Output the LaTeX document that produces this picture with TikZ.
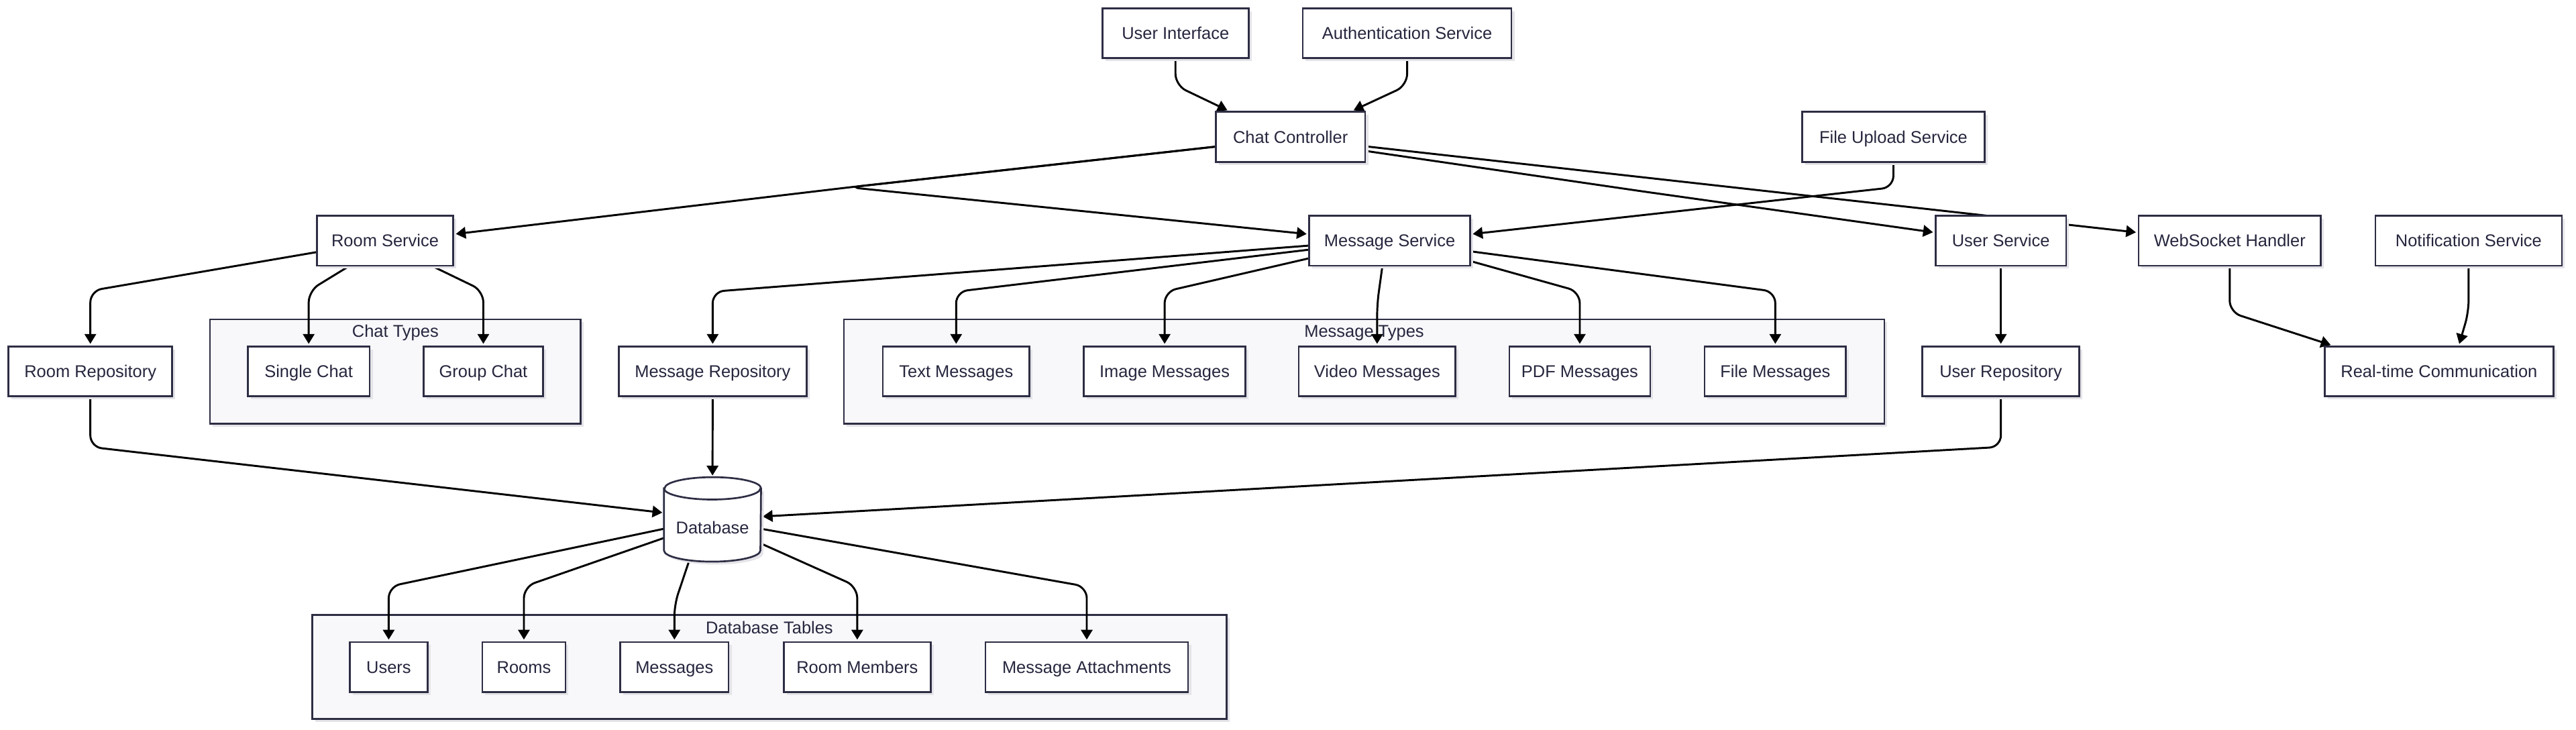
\documentclass[tikz,border=0pt]{standalone}
\usepackage{fontspec}
\setmainfont{Liberation Sans}
\usetikzlibrary{arrows.meta,shadows,calc}
\pgfdeclarelayer{clusters}
\pgfdeclarelayer{edges}
\pgfsetlayers{clusters,edges,main}
\definecolor{nodeline}{HTML}{2D2D44}
\definecolor{nodetext}{HTML}{26263E}
\definecolor{clusterfill}{HTML}{F8F8FB}
\definecolor{shadowc}{HTML}{E4E4E9}
\begin{document}
\begin{tikzpicture}[x=1pt,y=-1pt,
  box/.style={draw=nodeline, line width=1.1pt, fill=white, text=nodetext,
    font=\fontsize{10.4}{12}\selectfont, minimum height=30.4pt, inner sep=0pt,
    text height=7.4pt, text depth=0pt,
    drop shadow={shadow xshift=1.8pt, shadow yshift=-1.8pt, fill=shadowc, opacity=1}},
  cluster/.style={draw=nodeline, line width=1.1pt, fill=clusterfill, inner sep=0pt,
    drop shadow={shadow xshift=1.8pt, shadow yshift=-1.8pt, fill=shadowc, opacity=1}},
  ctitle/.style={text=nodetext, font=\fontsize{10.4}{12}\selectfont, inner sep=0pt,
    text height=7.4pt, text depth=0pt},
  arr/.style={draw=black, line width=1.2pt, -{Triangle[length=6pt,width=7pt]},
    rounded corners=7pt, shorten >=1pt},
]
\useasboundingbox (0,0) rectangle (1568,444);

% ---- nodes ----
\node[box, minimum width=89pt]  (ui)   at (715.5,20.2) {User Interface};
\node[box, minimum width=127pt] (auth) at (856.5,20.2) {Authentication Service};
\node[box, minimum width=91pt]  (cc)   at (785.5,83.3) {Chat Controller};
\node[box, minimum width=111pt] (fus)  at (1152.5,83.3) {File Upload Service};

\node[box, minimum width=83pt]  (rs) at (234.4,146.5) {Room Service};
\node[box, minimum width=98pt]  (ms) at (845.9,146.5) {Message Service};
\node[box, minimum width=79.5pt] (us) at (1217.9,146.5) {User Service};
\node[box, minimum width=111pt] (wh) at (1357.2,146.5) {WebSocket Handler};
\node[box, minimum width=113.5pt] (ns) at (1502.6,146.5) {Notification Service};

\node[box, minimum width=99.6pt]  (rr) at (55,226) {Room Repository};
\node[box, minimum width=74.3pt]  (sc) at (187.9,226) {Single Chat};
\node[box, minimum width=72.6pt]  (gc) at (294.2,226) {Group Chat};
\node[box, minimum width=114.5pt] (mr) at (433.8,226) {Message Repository};
\node[box, minimum width=89.3pt]  (tm) at (582,226) {Text Messages};
\node[box, minimum width=98.3pt]  (im) at (708.9,226) {Image Messages};
\node[box, minimum width=95.5pt]  (vm) at (838.25,226) {Video Messages};
\node[box, minimum width=85.7pt]  (pm) at (961.6,226) {PDF Messages};
\node[box, minimum width=86.1pt]  (fm) at (1080.6,226) {File Messages};
\node[box, minimum width=95.7pt]  (ur) at (1217.9,226) {User Repository};
\node[box, minimum width=139.3pt] (rt) at (1484.65,226) {Real-time Communication};

\node[box, minimum width=47.2pt]  (users) at (236.6,406) {Users};
\node[box, minimum width=50.7pt]  (rooms) at (318.9,406) {Rooms};
\node[box, minimum width=66pt]    (msgs)  at (410.5,406) {Messages};
\node[box, minimum width=89.6pt]  (rm)    at (521.8,406) {Room Members};
\node[box, minimum width=123.4pt] (ma)    at (661.5,406) {Message Attachments};

% database cylinder
\node[minimum width=58.7pt, minimum height=51pt, inner sep=0pt] (db) at (433.7,316.1) {};
\fill[shadowc] ([xshift=1.8pt,yshift=-8.6pt]db.north west) -- ([xshift=1.8pt,yshift=5pt]db.south west)
  arc[start angle=180,end angle=360,x radius=29.35pt,y radius=6.8pt]
  -- ([xshift=1.8pt,yshift=-8.6pt]db.north east) -- cycle;
\draw[draw=nodeline, line width=1.1pt, fill=white]
  ([yshift=-6.8pt]db.north west) -- ([yshift=6.8pt]db.south west)
  arc[start angle=180,end angle=360,x radius=29.35pt,y radius=6.8pt]
  -- ([yshift=-6.8pt]db.north east)
  arc[start angle=0,end angle=180,x radius=29.35pt,y radius=6.8pt] -- cycle;
\draw[draw=nodeline, line width=1.1pt] ([yshift=-6.8pt]db.north west)
  arc[start angle=180,end angle=360,x radius=29.35pt,y radius=6.8pt];
\node[ctitle] (dbtext) at (433.7,321) {Database};

% ---- clusters ----
\begin{pgfonlayer}{clusters}
\node[cluster, minimum width=225.7pt, minimum height=63.6pt] (ctypes) at (240.65,226.2) {};
\node[ctitle] (ctypesl) at (240.65,201.5) {Chat Types};
\node[cluster, minimum width=633.3pt, minimum height=63.6pt] (mtypes) at (830.35,226.2) {};
\node[ctitle] (mtypesl) at (830.35,201.5) {Message Types};
\node[cluster, minimum width=556.6pt, minimum height=63.3pt] (dtables) at (468.3,405.95) {};
\node[ctitle] (dtablesl) at (468.3,381.8) {Database Tables};
\end{pgfonlayer}

% ---- edges ----
\begin{pgfonlayer}{edges}
\draw[arr] (ui.south) -- (715.5,52) -- ([xshift=-37.5pt]cc.north);
\draw[arr] (auth.south) -- (856.5,52) -- ([xshift=37.5pt]cc.north);
\draw[arr] ([yshift=-6pt]cc.west) -- (517,114) -- ([yshift=4pt]rs.east);
\draw[arr] ([yshift=-6pt]cc.west) -- (517,114) -- ([yshift=4pt]ms.west);
\draw[arr] ([yshift=-8.6pt]cc.east) -- (1000,116.5) -- ([yshift=5pt]us.west);
\draw[arr] ([yshift=-5.8pt]cc.east) -- ([yshift=5pt]wh.west);
\draw[arr] (fus.south) -- (1152.5,114) -- ([yshift=4pt]ms.east);
\draw[arr] ([yshift=-3pt]ms.west) -- (433.8,177.5) -- (mr.north);
\draw[arr] ([yshift=-5.5pt]ms.west) -- (582,177.5) -- (tm.north);
\draw[arr] ([yshift=-10.8pt]ms.west) -- (708.9,177.5) -- (im.north);
\draw[arr] ([xshift=-4.5pt]ms.south) -- (838.25,185) -- (vm.north);
\draw[arr] ([yshift=-12.5pt]ms.east) -- (961.6,177.5) -- (pm.north);
\draw[arr] ([yshift=-6.5pt]ms.east) -- (1080.6,177.5) -- (fm.north);
\draw[arr] ([yshift=-7pt]rs.west) -- (55,177) -- (rr.north);
\draw[arr] ([xshift=-22.4pt]rs.south) -- (187.9,177) -- (sc.north);
\draw[arr] ([xshift=29.3pt]rs.south) -- (294.2,177) -- (gc.north);
\draw[arr] (us.south) -- (ur.north);
\draw[arr] (wh.south) -- (1357.2,190) -- ([xshift=-65pt]rt.north);
\draw[arr] (ns.south) -- (1502.6,190) -- ([xshift=12pt]rt.north);
\draw[arr] (rr.south) -- (55,272) -- ([yshift=4pt]db.west);
\draw[arr] (mr.south) -- (db.north);
\draw[arr] (ur.south) -- (1217.9,272) -- ([yshift=1.7pt]db.east);
\draw[arr] ([yshift=-5.7pt]db.west) -- (236.6,357) -- (users.north);
\draw[arr] ([yshift=-11.3pt]db.west) -- (318.9,357) -- (rooms.north);
\draw[arr] ([xshift=-14.4pt]db.south) -- (410.5,368) -- (msgs.north);
\draw[arr] ([yshift=-14.7pt]db.east) -- (521.8,357) -- (rm.north);
\draw[arr] ([yshift=-5.7pt]db.east) -- (661.5,357) -- (ma.north);
\end{pgfonlayer}
\end{tikzpicture}
\end{document}
